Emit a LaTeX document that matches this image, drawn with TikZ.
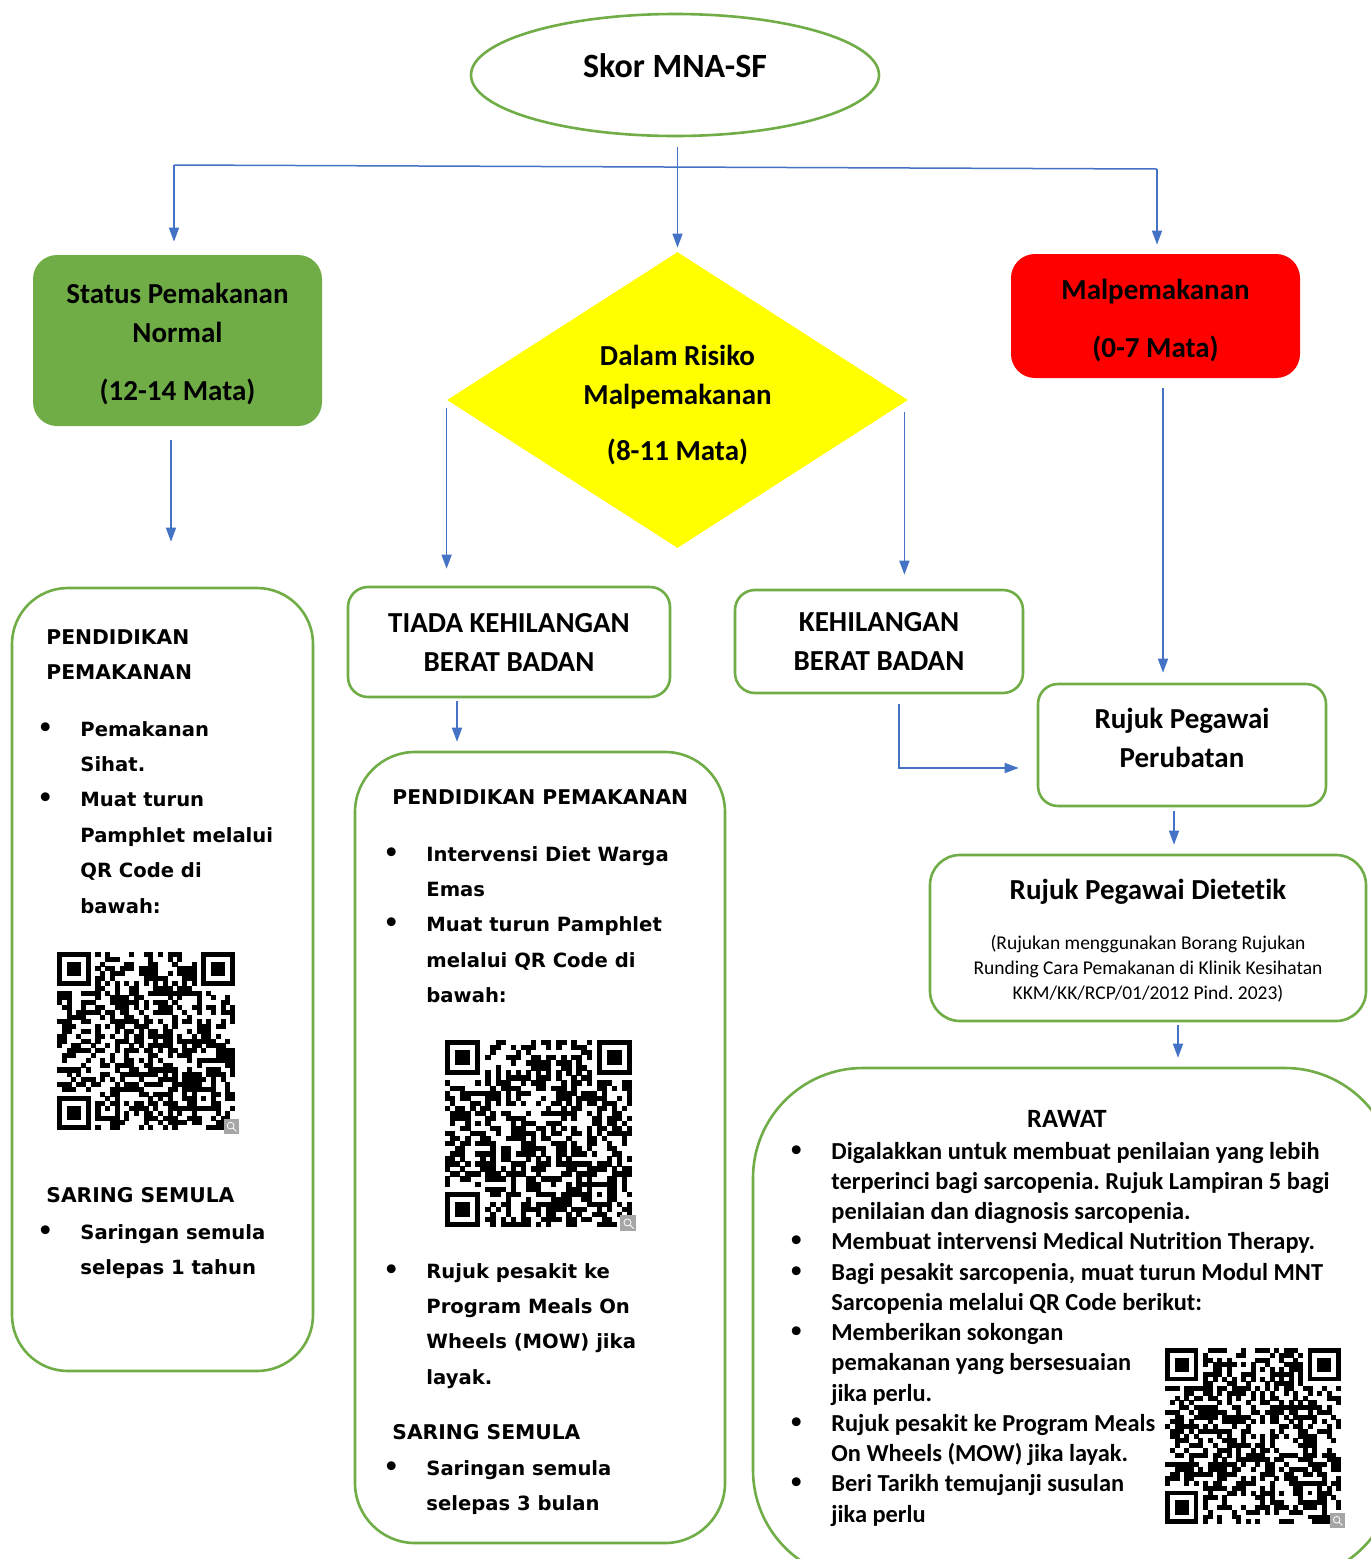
\documentclass[tikz,border=0pt]{standalone}
\usepackage{fontspec}
\setmainfont[Ligatures=NoCommon]{Carlito}
\newfontfamily\verd{DejaVu Sans}
\usetikzlibrary{arrows.meta,shapes.geometric}
\definecolor{grn}{HTML}{70AD47}
\definecolor{blu}{HTML}{4472C4}
\definecolor{redf}{HTML}{FF0000}
\definecolor{yel}{HTML}{FFFF00}
\newcommand\vfont{\verd\bfseries\fontsize{9.8}{17.7}\selectfont}
\newcommand\vhfont{\verd\bfseries\fontsize{10.15}{17.7}\selectfont}
\newcommand\hfont{\bfseries\fontsize{14.5}{19.5}\selectfont}
\newcommand\rfont{\bfseries\fontsize{12.2}{15.125}\selectfont}
\newcommand\sfont{\fontsize{9.75}{12.5}\selectfont}
\newcommand\bl[2]{\begin{tabular}[t]{@{}p{#1}@{}l@{}}#2\end{tabular}}
\newcommand\bu{{\verd\bfseries\fontsize{12.5}{12}\selectfont •}}
\newcommand\qrcodepic[4]{%
\begin{scope}[shift={(#1,#2)},scale=#3/37]
 \pgfmathsetseed{#4}
 \foreach \i in {0,...,36}{\foreach \j in {0,...,36}{%
   \pgfmathtruncatemacro\qin{((\i<8)&&(\j<8))||((\i>28)&&(\j<8))||((\i<8)&&(\j>28))||((\i>27)&&(\i<33)&&(\j>27)&&(\j<33))||(\i==6)||(\j==6)}%
   \ifnum\qin=0
     \pgfmathrandominteger{\qrr}{0}{1}%
     \ifnum\qrr=1 \fill (\i,\j) rectangle ++(1.05,1.05);\fi
   \fi
 }}
 \foreach \k in {8,10,...,28}{\fill (\k,6) rectangle ++(1.05,1.05); \fill (6,\k) rectangle ++(1.05,1.05);}
 \foreach \a/\b in {0/0,30/0,0/30}{
   \fill (\a,\b) rectangle ++(7,7);
   \fill[white] (\a+1,\b+1) rectangle ++(5,5);
   \fill (\a+2,\b+2) rectangle ++(3,3);
 }
 \fill (28,28) rectangle ++(5,5);
 \fill[white] (29,29) rectangle ++(3,3);
 \fill (30,30) rectangle ++(1,1);
 \fill[gray!70] (34.7,34.7) rectangle (37.8,37.8);
 \draw[white, line width=0.4pt] (36.1,36.1) circle (0.7) (36.6,36.6) -- (37.3,37.3);
\end{scope}}
\frenchspacing
\begin{document}
\begin{tikzpicture}[x=0.5pt,y=-0.5pt,
  ln/.style={draw=blu, line width=0.75pt},
  arr/.style={ln, -{Triangle[width=5pt,length=7pt]}},
  gbx/.style={draw=grn, line width=1.3pt, fill=white},
  txt/.style={inner sep=0pt, align=center},
  lst/.style={inner sep=0pt, anchor=base west}]
\useasboundingbox (0,0) rectangle (1371,1559);
\fill[white] (0,0) rectangle (1371,1559);

% top ellipse
\node[ellipse, draw=grn, line width=1.3pt, minimum width=204pt, minimum height=61pt, inner sep=0pt] (ske) at (675,75) {};
\node[txt, font=\bfseries\fontsize{17}{20}\selectfont] (sket) at (675,66) {Skor MNA-SF};

% level 1
\node[fill=grn, rounded corners=12pt, minimum width=144.5pt, minimum height=85.5pt, inner sep=0pt] (gbox) at (177.5,340.5) {};
\node[txt, font=\hfont] (gtxt) at (177.5,344.5) {Status Pemakanan\\Normal\\[9.5pt](12-14 Mata)};
\node[diamond, shape aspect=1.557, fill=yel, minimum width=230.5pt, minimum height=148pt, inner sep=0pt] (dia) at (677.5,400) {};
\node[txt, font=\hfont] (dtxt) at (677.5,405) {Dalam Risiko\\Malpemakanan\\[8.5pt](8-11 Mata)};
\node[fill=redf, rounded corners=12pt, minimum width=144.5pt, minimum height=62pt, inner sep=0pt] (rbox) at (1155.5,316) {};
\node[txt, font=\hfont] (rtxt) at (1155.5,321) {Malpemakanan\\[9.5pt](0-7 Mata)};

% level 2
\node[gbx, rounded corners=28pt, minimum width=150.5pt, minimum height=391.5pt] (lbox) at (162.5,979.5) {};
\node[gbx, rounded corners=10pt, minimum width=161pt, minimum height=55pt, txt, font=\hfont] (tbox) at (509,642) {TIADA KEHILANGAN\\BERAT BADAN};
\node[gbx, rounded corners=10pt, minimum width=144pt, minimum height=51.5pt, txt, font=\hfont] (kbox) at (879,641.5) {KEHILANGAN\\BERAT BADAN};
\node[gbx, rounded corners=30pt, minimum width=185pt, minimum height=395.5pt] (mbox) at (540,1147.5) {};
\node[gbx, rounded corners=10pt, minimum width=144pt, minimum height=61pt] (pbox) at (1182,745) {};
\node[txt, font=\hfont] (ptxt) at (1182,738) {Rujuk Pegawai\\Perubatan};
\node[gbx, rounded corners=15pt, minimum width=218pt, minimum height=83pt] (dbox) at (1148,938) {};
\begin{scope}
\clip (0,0) rectangle (1371,1559);
\node[gbx, rounded corners=55pt, minimum width=321pt, minimum height=256pt] (rawat) at (1074,1324) {};
\end{scope}

% connectors
\coordinate (bL) at (174,165);
\coordinate (bR) at (1157,169);
\draw[ln] (bL) -- (bR);
\draw[arr, shorten >=6.5pt] (bL) -- (bL |- gbox.north);
\draw[arr, shorten >=4.5pt] (bR) -- (bR |- rbox.north);
\draw[arr, shorten <=5pt, shorten >=2pt] (dia.north |- ske.south) -- (dia.north);
\draw[arr, shorten <=7pt, shorten >=22.5pt] ([xshift=-3.25pt]gbox.south) -- ([xshift=-3.25pt]gbox.south |- lbox.north);
\draw[arr, shorten <=4pt, shorten >=8.5pt] (dia.west) -- (dia.west |- tbox.north);
\draw[arr, shorten <=6pt, shorten >=7pt] ([xshift=-2pt]dia.east) -- ([xshift=-2pt]dia.east |- kbox.north);
\draw[arr, shorten <=5pt, shorten >=5pt] ([xshift=3.75pt]rbox.south) -- ([xshift=3.75pt]rbox.south |- pbox.north);
\draw[arr, shorten <=1.5pt, shorten >=4.5pt] ([xshift=-26pt]tbox.south) -- ([xshift=-26pt]tbox.south |- mbox.north);
\draw[arr, shorten <=5pt, shorten >=9pt] ([xshift=10pt]kbox.south) |- ([yshift=-11.5pt]pbox.west);
\draw[arr, shorten <=2pt, shorten >=4.5pt] ([xshift=-4pt]pbox.south) -- ([xshift=-4pt]pbox.south |- dbox.north);
\draw[arr, shorten <=1.5pt, shorten >=4.5pt] ([xshift=15pt]dbox.south) -- ([xshift=15pt]dbox.south |- rawat.north);

% left box content
\node[lst, font=\vhfont] (l1h) at (46,644) {\begin{tabular}[t]{@{}l@{}}PENDIDIKAN\\PEMAKANAN\end{tabular}};
\node[lst, font=\vfont] (l1b) at (37,736) {\bl{21.5pt}{\bu & Pemakanan\\ & Sihat.\\ \bu & Muat turun\\ & Pamphlet melalui\\ & QR Code di\\ & bawah:}};
\qrcodepic{57}{952}{178}{11}
\node[lst, font=\vhfont] (l1s) at (46,1202) {SARING SEMULA};
\node[lst, font=\vfont] (l1c) at (37,1239) {\bl{21.5pt}{\bu & Saringan semula\\ & selepas 1 tahun}};

% middle box content
\node[lst, font=\vhfont] (m1h) at (392,804) {PENDIDIKAN PEMAKANAN};
\node[lst, font=\vfont] (m1b) at (383,861) {\bl{21.5pt}{\bu & Intervensi Diet Warga\\ & Emas\\ \bu & Muat turun Pamphlet\\ & melalui QR Code di\\ & bawah:}};
\qrcodepic{445}{1040}{187}{23}
\node[lst, font=\vfont] (m1c) at (383,1278) {\bl{21.5pt}{\bu & Rujuk pesakit ke\\ & Program Meals On\\ & Wheels (MOW) jika\\ & layak.}};
\node[lst, font=\vhfont] (m1s) at (392,1439) {SARING SEMULA};
\node[lst, font=\vfont] (m1d) at (383,1475) {\bl{21.5pt}{\bu & Saringan semula\\ & selepas 3 bulan}};

% dietetik content
\node[txt, font=\hfont] (dtit) at (1148,892) {Rujuk Pegawai Dietetik};
\node[txt, font=\sfont] (dsub) at (1148,969) {(Rujukan menggunakan Borang Rujukan\\Runding Cara Pemakanan di Klinik Kesihatan\\KKM/KK/RCP/01/2012 Pind. 2023)};

% rawat content
\node[txt, font=\bfseries\fontsize{13.2}{15}\selectfont] (rt) at (1067,1119) {RAWAT};
\node[lst, font=\rfont] (rl) at (788,1159) {\bl{21.5pt}{\bu & Digalakkan untuk membuat penilaian yang lebih\\ & terperinci bagi sarcopenia. Rujuk Lampiran 5 bagi\\ & penilaian dan diagnosis sarcopenia.\\ \bu & Membuat intervensi Medical Nutrition Therapy.\\ \bu & Bagi pesakit sarcopenia, muat turun Modul MNT\\ & Sarcopenia melalui QR Code berikut:\\ \bu & Memberikan sokongan\\ & pemakanan yang bersesuaian\\ & jika perlu.\\ \bu & Rujuk pesakit ke Program Meals\\ & On Wheels (MOW) jika layak.\\ \bu & Beri Tarikh temujanji susulan\\ & jika perlu}};
\qrcodepic{1165}{1348}{176}{37}
\end{tikzpicture}
\end{document}
